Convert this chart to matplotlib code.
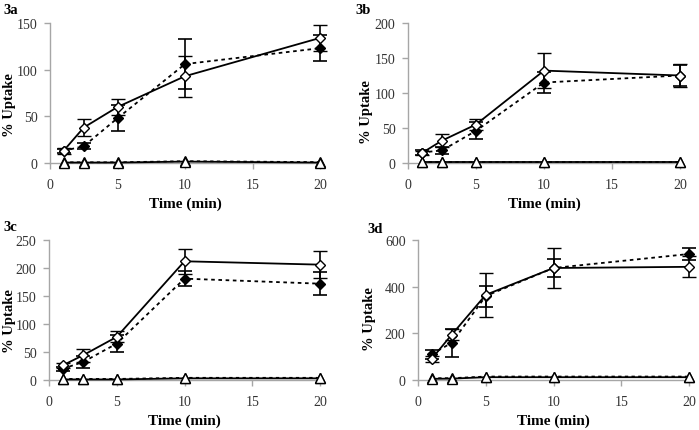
import matplotlib
matplotlib.use('Agg')
import matplotlib.pyplot as plt

plt.rcParams['font.family'] = ['Liberation Serif', 'DejaVu Serif']

times = [1, 2.5, 5, 10, 20]

# panel 3a
a_open = [13, 38, 60, 93, 134]
a_open_err = [3, 9, 9, 22, 14]
a_fill = [13, 18, 48, 106, 123]
a_fill_err = [2, 3, 14, 27, 14]
a_tri_open = [0.5, 0.5, 0.5, 1.5, 0.5]
a_tri_fill = [0.8, 0.8, 0.8, 2.0, 1.0]

# panel 3b
b_open = [14, 32, 55, 132, 125]
b_open_err = [3, 9, 8, 25, 16]
b_fill = [15, 18, 46, 115, 125]
b_fill_err = [3, 5, 12, 15, 15]
b_tri_open = [1, 1, 1, 1, 1]
b_tri_fill = [1.5, 1.5, 1.5, 1.5, 1.5]

# panel 3c
c_open = [26, 44, 77, 212, 206]
c_open_err = [4, 11, 10, 22, 24]
c_fill = [20, 32, 65, 181, 172]
c_fill_err = [4, 10, 15, 14, 20]
c_tri_open = [1, 1, 1, 3, 3]
c_tri_fill = [2, 2, 2, 4, 4]

# panel 3d
d_open = [90, 195, 365, 480, 485]
d_open_err = [12, 25, 95, 85, 45]
d_fill = [110, 160, 360, 480, 540]
d_fill_err = [20, 60, 45, 40, 25]
d_tri_open = [5, 6, 12, 12, 12]
d_tri_fill = [8, 8, 15, 15, 15]

W, H = 699, 431
fig = plt.figure(figsize=(W / 100, H / 100), dpi=100)

gray = '#a6a6a6'


def add_panel(x0, x20, ytop, y0, ymax, ystep, label, lab_xy, ylab_x, ylab_y,
              opn, opn_err, fil, fil_err, tri_o, tri_f):
    ax = fig.add_axes([x0 / W, 1 - y0 / H, (x20 - x0) / W, (y0 - ytop) / H])
    ax.errorbar(times, tri_f, fmt='^', ls=(0, (2, 2)), color='black', lw=1.2,
                ms=7, mfc='black', clip_on=False, zorder=3)
    ax.errorbar(times, tri_o, fmt='^', ls='-', color='black', lw=1.3,
                ms=7, mfc='white', mew=1, clip_on=False, zorder=4)
    ax.errorbar(times, fil, yerr=fil_err, fmt='D', ls=(0, (2, 2)), color='black',
                lw=1.3, ms=5, mfc='black', capsize=5, elinewidth=1.2,
                capthick=1.2, clip_on=False, zorder=5)
    ax.errorbar(times, opn, yerr=opn_err, fmt='D', ls='-', color='black',
                lw=1.3, ms=5.5, mfc='white', mew=1, capsize=5, elinewidth=1.2,
                capthick=1.2, clip_on=False, zorder=6)
    ax.set_xlim(0, 20)
    ax.set_ylim(0, ymax)
    ax.set_xticks([0, 5, 10, 15, 20])
    ax.set_yticks(range(0, ymax + 1, ystep))
    for s in ['top', 'right']:
        ax.spines[s].set_visible(False)
    for s in ['left', 'bottom']:
        ax.spines[s].set_color(gray)
        ax.spines[s].set_linewidth(1)
    ax.tick_params(colors=gray, labelcolor='#333333', labelsize=10,
                   length=4, width=1)
    ax.tick_params(axis='y', pad=5)
    ax.tick_params(axis='x', pad=7)
    ax.set_xlabel('Time (min)', fontsize=11, fontweight='bold', labelpad=4)
    ax.set_ylabel('% Uptake', fontsize=10.5, fontweight='bold')
    ax.yaxis.set_label_coords((ylab_x - x0) / (x20 - x0), ylab_y)
    fig.text(lab_xy[0] / W, 1 - lab_xy[1] / H, label, fontsize=10.5,
             fontweight='bold', ha='left', va='center')
    return ax


add_panel(50, 320, 24, 164, 150, 50, '3a', (3, 10), 16, 0.42,
          a_open, a_open_err, a_fill, a_fill_err, a_tri_open, a_tri_fill)
add_panel(408, 680, 24, 164, 200, 50, '3b', (355, 10), 373, 0.37,
          b_open, b_open_err, b_fill, b_fill_err, b_tri_open, b_tri_fill)
add_panel(49, 320, 241, 381, 250, 50, '3c', (3, 228), 16, 0.43,
          c_open, c_open_err, c_fill, c_fill_err, c_tri_open, c_tri_fill)
add_panel(418, 689, 241, 381, 600, 200, '3d', (367, 230), 376, 0.44,
          d_open, d_open_err, d_fill, d_fill_err, d_tri_open, d_tri_fill)

fig.savefig('out.png', dpi=100)
